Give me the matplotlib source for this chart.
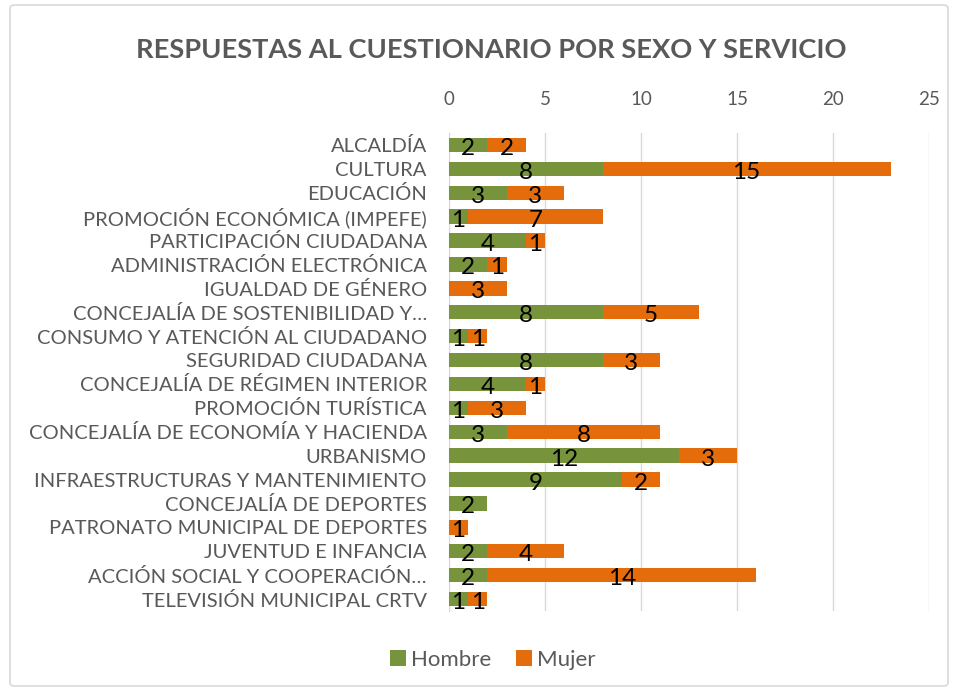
import matplotlib
matplotlib.use("Agg")
import matplotlib.pyplot as plt
from matplotlib.patches import FancyBboxPatch
import numpy as np

categories = [
    "ALCALDÍA", "CULTURA", "EDUCACIÓN", "PROMOCIÓN ECONÓMICA (IMPEFE)",
    "PARTICIPACIÓN CIUDADANA", "ADMINISTRACIÓN ELECTRÓNICA", "IGUALDAD DE GÉNERO",
    "CONCEJALÍA DE SOSTENIBILIDAD Y…", "CONSUMO Y ATENCIÓN AL CIUDADANO",
    "SEGURIDAD CIUDADANA", "CONCEJALÍA DE RÉGIMEN INTERIOR", "PROMOCIÓN TURÍSTICA",
    "CONCEJALÍA DE ECONOMÍA Y HACIENDA", "URBANISMO", "INFRAESTRUCTURAS Y MANTENIMIENTO",
    "CONCEJALÍA DE DEPORTES", "PATRONATO MUNICIPAL DE DEPORTES", "JUVENTUD E INFANCIA",
    "ACCIÓN SOCIAL Y COOPERACIÓN…", "TELEVISIÓN MUNICIPAL CRTV",
]
hombre = [2, 8, 3, 1, 4, 2, 0, 8, 1, 8, 4, 1, 3, 12, 9, 2, 0, 2, 2, 1]
mujer = [2, 15, 3, 7, 1, 1, 3, 5, 1, 3, 1, 3, 8, 3, 2, 0, 1, 4, 14, 1]
xticks = [0, 5, 10, 15, 20, 25]

GREEN = "#77933C"
ORANGE = "#E46C0A"
GRAY = "#595959"
FONT = ["Lato", "DejaVu Sans"]
plt.rcParams["font.family"] = FONT

fig = plt.figure(figsize=(9.58, 6.91), dpi=100)
W, H = 958, 691
ax = fig.add_axes([449 / W, 1 - 611 / H, (929 - 449) / W, (611 - 133) / H])

y = np.arange(len(categories))
h = np.array(hombre)
m = np.array(mujer)
b1 = ax.barh(y, h, height=0.6, color=GREEN, label="Hombre", zorder=3)
b2 = ax.barh(y, m, left=h, height=0.6, color=ORANGE, label="Mujer", zorder=3)

for bars, vals in ((b1, h), (b2, m)):
    for rect, v in zip(bars, vals):
        if v == 0:
            continue
        cx = rect.get_x() + rect.get_width() / 2
        cy = rect.get_y() + rect.get_height() / 2
        ax.annotate(str(v), (cx, cy), xytext=(0, -2.5), textcoords="offset points",
                    ha="center", va="center", fontsize=17.5, color="black", zorder=4)

ax.set_xlim(0, 25)
ax.set_ylim(len(categories) - 0.5, -0.5)
ax.set_xticks(xticks)
ax.set_yticks(y)
ax.set_yticklabels(categories)
ax.xaxis.tick_top()
ax.tick_params(axis="x", length=0, pad=18, labelsize=13.5, labelcolor=GRAY)
ax.tick_params(axis="y", length=0, pad=16, labelsize=14.5, labelcolor=GRAY)
ax.grid(axis="x", color="#D9D9D9", linewidth=1, zorder=0)
for s in ["top", "right", "bottom"]:
    ax.spines[s].set_visible(False)
ax.spines["left"].set_color("#D9D9D9")
ax.spines["left"].set_zorder(2)

fig.text(491 / W, 1 - 50 / H, "RESPUESTAS AL CUESTIONARIO POR SEXO Y SERVICIO",
         ha="center", va="center", fontsize=19.6, fontweight="bold", color=GRAY)

fig.legend(handles=[b1, b2], labels=["Hombre", "Mujer"], loc="center",
           bbox_to_anchor=(493 / W, 1 - 660 / H), ncol=2, frameon=False,
           fontsize=16, labelcolor=GRAY, handlelength=0.7, handleheight=0.7,
           handletextpad=0.25, columnspacing=1.1)

border = FancyBboxPatch((10 / W, 5 / H), (W - 20) / W, (H - 10) / H,
                        boxstyle="round,pad=0,rounding_size=0.005",
                        transform=fig.transFigure, fill=False,
                        edgecolor="#D9D9D9", linewidth=1.2)
fig.patches.append(border)

fig.savefig("out.png", dpi=100, facecolor="white")
